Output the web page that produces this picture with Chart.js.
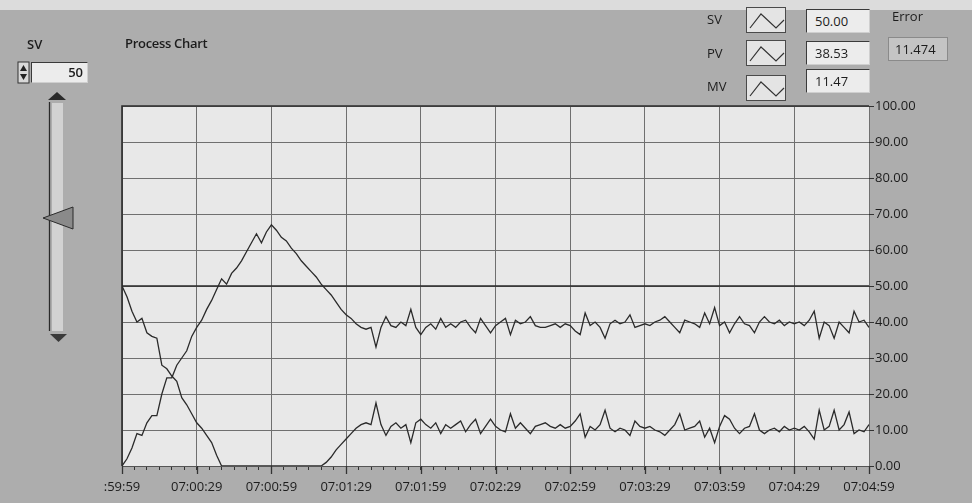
<!DOCTYPE html>
<html>
<head>
<meta charset="utf-8">
<script src="https://cdn.jsdelivr.net/npm/chart.js@4.4.0/dist/chart.umd.min.js"></script>
<style>
  body { margin:0; width:972px; height:503px; background:#adadad; font-family:'Open Sans', sans-serif; overflow:hidden; position:relative; }
  #topstrip { position:absolute; left:0; top:0; width:972px; height:10px; background:#dcdcdc; }
  #c { position:absolute; left:0; top:0; }
  .lbl { position:absolute; font-size:13px; color:#1c1c1c; line-height:14px; }
  .box { position:absolute; background:#ececec; border-top:1px solid #3a3a3a; border-left:1px solid #3a3a3a; border-right:1px solid #cfcfcf; border-bottom:1px solid #cfcfcf; font-size:13px; color:#1c1c1c; box-sizing:border-box; }
  .icon { position:absolute; width:40px; height:26px; background:#e4e4e4; border:1px solid #4a4a4a; box-sizing:border-box; }
  svg { position:absolute; left:0; top:0; }
</style>
</head>
<body>
<div id="topstrip"></div>
<canvas id="c" width="972" height="503"></canvas>

<div class="lbl" style="left:27px;top:37px;font-weight:600;">SV</div>
<div class="lbl" style="left:125px;top:36px;font-weight:600;letter-spacing:-0.3px;">Process Chart</div>
<div class="box" style="left:31px;top:62px;width:57px;height:21px;text-align:right;padding-right:4px;line-height:19px;font-weight:600;">50</div>
<svg width="972" height="503" style="pointer-events:none">
  <!-- numeric control arrows -->
  <rect x="18" y="62" width="11" height="21" fill="#d8d8d8" stroke="#333" stroke-width="1"/>
  <polygon points="20,71 27,71 23.5,65" fill="#222"/>
  <polygon points="20,74 27,74 23.5,80" fill="#222"/>
  <!-- slide -->
  <rect x="52" y="103" width="11" height="228" fill="#d2d2d2"/>
  <line x1="49.5" y1="102" x2="49.5" y2="331" stroke="#2a2a2a" stroke-width="1.3"/>
  <polygon points="48,100 66,100 57,92" fill="#2a2a2a"/>
  <polygon points="50,334 67,334 58.5,342" fill="#3a3a3a"/>
  <polygon points="43,218 73,207 73,229" fill="#8a8a8a" stroke="#2a2a2a" stroke-width="1"/>
</svg>

<div class="lbl" style="left:707px;top:12px;">SV</div>
<div class="lbl" style="left:707px;top:46px;">PV</div>
<div class="lbl" style="left:707px;top:79px;">MV</div>
<div class="icon" style="left:746px;top:7px;"><svg width="40" height="26"><polyline points="3,20 14,6 29,20 37,12" fill="none" stroke="#333" stroke-width="1.2"/></svg></div>
<div class="icon" style="left:746px;top:40px;"><svg width="40" height="26"><polyline points="3,20 14,6 29,20 37,12" fill="none" stroke="#333" stroke-width="1.2"/></svg></div>
<div class="icon" style="left:746px;top:75px;"><svg width="40" height="26"><polyline points="3,20 14,6 29,20 37,12" fill="none" stroke="#333" stroke-width="1.2"/></svg></div>
<div class="box" style="left:806px;top:9px;width:64px;height:24px;padding-left:8px;line-height:22px;">50.00</div>
<div class="box" style="left:806px;top:41px;width:64px;height:24px;padding-left:8px;line-height:22px;">38.53</div>
<div class="box" style="left:806px;top:69px;width:64px;height:24px;padding-left:8px;line-height:22px;">11.47</div>
<div class="lbl" style="left:892px;top:9px;">Error</div>
<div class="box" style="left:888px;top:37px;width:60px;height:24px;padding-left:6px;line-height:22px;background:#c4c4c4;border-color:#8a8a8a;">11.474</div>

<script>
// seconds since 06:59:59
const seconds = [0,2,4,6,8,10,12,14,16,18,20,22,24,26,28,30,32,34,36,38,40,42,44,46,48,50,52,54,56,58,60,62,64,66,68,70,72,74,76,78,80,82,84,86,88,90,92,94,96,98,100,102,104,106,108,110,112,114,116,118,120,122,124,126,128,130,132,134,136,138,140,142,144,146,148,150,152,154,156,158,160,162,164,166,168,170,172,174,176,178,180,182,184,186,188,190,192,194,196,198,200,202,204,206,208,210,212,214,216,218,220,222,224,226,228,230,232,234,236,238,240,242,244,246,248,250,252,254,256,258,260,262,264,266,268,270,272,274,276,278,280,282,284,286,288,290,292,294,296,298,300];
const pv = [0,2,5,9,8.5,12,14,14,20,24.5,
  24.5,28,30,32,36,38.5,40.5,43.5,46,49,
  52,50.5,53.5,55,57,59.5,62,64.5,62,65,
  67,65.5,63.5,62.5,60.5,59,57,55.5,54,52.5,
  50.5,49,47.5,45.5,43.5,42,41,39.5,38.5,38,
  38.5,33,38.5,41.5,39,38.5,40,39,43.5,38.5,
  36.5,38.5,39.5,38,41,38.5,39.5,38.5,40,40.5,
  38.5,37,41,39,37,39,40,41,36.5,40.5,
  39.5,40,41.5,39,38.5,38.5,39,39.5,38.5,39.5,
  39,37.5,36.5,42.5,39,40,38.5,35.5,39.5,40.5,
  39.5,40,42,38.5,39,39.5,39,40,40.5,41.5,
  40,38.5,37,40.5,40,39.5,38.5,42.5,39.5,44,
  39,40,37,39.5,41.5,39.5,39,37,40,41.5,
  40,39.5,40.5,39,40,39.5,40,39,40.5,43,
  35.5,40,39,35.5,40,38.5,37,43,40,40.5,
  38.5];
const mv = [50,47,43,40,41,37,36,35.5,28,27,
  25,23.5,19,17,14.5,12,10.5,8.5,6.5,3,
  0,0,0,0,0,0,0,0,0,0,
  0,0,0,0,0,0,0,0,0,0,
  0,1,2.5,4.5,6,7.5,9,10.5,11.5,12,
  11.5,17.5,11.5,8.5,11,12,10.5,11.5,6.5,12,
  13,11.5,10.5,12,9,11.5,10.5,11.5,12.5,9.5,
  11.5,13,9,11,13,11,10,9.5,14.5,10.5,
  12,10.5,9,11,11.5,12,11,10.5,11.5,10.5,
  11,12.5,14.5,8,11,10,11.5,15.5,10.5,9.5,
  10.5,10,8.5,12.5,11,10.5,11,10,9.5,8.5,
  10,11.5,14.5,10,10.5,11,12.5,8,10.5,6.5,
  11,14,13,10.5,9,10.5,11,14.5,10,9,
  10,10.5,9.5,11,10,10.5,10,11,9.5,7.5,
  15.5,10,11,15.5,10,11.5,15,9,10,9.5,
  11.5];
const svSeconds = [0, 300];
const sv = [50, 50];
const timeLabels = [':59:59','07:00:29','07:00:59','07:01:29','07:01:59','07:02:29','07:02:59','07:03:29','07:03:59','07:04:29','07:04:59'];

const toXY = (xs, ys) => xs.map((x, i) => ({x: x, y: ys[i]}));

Chart.defaults.font.family = "'Open Sans', sans-serif";
Chart.defaults.font.size = 13;
Chart.defaults.color = '#1c1c1c';

const plotBg = {
  id: 'plotBg',
  beforeDraw(chart) {
    const a = chart.chartArea, ctx = chart.ctx;
    ctx.save();
    ctx.fillStyle = '#e8e8e8';
    ctx.fillRect(a.left, a.top, a.right - a.left, a.bottom - a.top);
    ctx.restore();
  },
  afterDraw(chart) {
    const a = chart.chartArea, ctx = chart.ctx;
    ctx.save();
    ctx.strokeStyle = '#2c2c2c';
    ctx.lineWidth = 1.6;
    ctx.beginPath();
    ctx.moveTo(a.left, a.bottom);
    ctx.lineTo(a.left, a.top);
    ctx.lineTo(a.right, a.top);
    ctx.stroke();
    // longer marks under the labelled times
    const xs = chart.scales.x;
    ctx.strokeStyle = '#333';
    ctx.lineWidth = 1.3;
    timeLabels.forEach((t, i) => {
      const px = Math.round(xs.getPixelForValue(i * 30)) + 0.5;
      ctx.beginPath();
      ctx.moveTo(px, a.bottom);
      ctx.lineTo(px, a.bottom + 8);
      ctx.stroke();
    });
    ctx.restore();
  }
};

const lineStyle = { borderColor: '#2a2a2a', borderWidth: 1.3, pointRadius: 0, tension: 0, fill: false };

new Chart(document.getElementById('c'), {
  type: 'line',
  data: {
    datasets: [
      Object.assign({ label: 'SV', data: toXY(svSeconds, sv) }, lineStyle),
      Object.assign({ label: 'PV', data: toXY(seconds, pv) }, lineStyle),
      Object.assign({ label: 'MV', data: toXY(seconds, mv) }, lineStyle)
    ]
  },
  options: {
    responsive: false,
    animation: false,
    layout: { padding: { left: 122, right: 43, top: 106, bottom: 7 } },
    plugins: { legend: { display: false }, tooltip: { enabled: false } },
    scales: {
      x: {
        type: 'linear', min: 0, max: 300,
        afterFit(s) { s.height = 30; },
        ticks: {
          stepSize: 5, autoSkip: false, maxRotation: 0, padding: 9,
          callback: v => (v % 30 === 0 ? timeLabels[v / 30] : '')
        },
        grid: {
          color: c => (c.tick && c.tick.value % 30 === 0 ? '#6f6f6f' : 'rgba(0,0,0,0)'),
          tickColor: '#333', tickLength: 4, lineWidth: 1
        },
        border: { display: true, color: '#555' }
      },
      y: {
        position: 'right', min: 0, max: 100,
        afterFit(s) { s.width = 60; },
        ticks: { stepSize: 10, padding: 1, callback: v => v.toFixed(2) },
        grid: { color: '#6f6f6f', tickColor: '#333', tickLength: 5, lineWidth: 1 },
        border: { display: false }
      }
    }
  },
  plugins: [plotBg]
});
</script>
</body>
</html>
